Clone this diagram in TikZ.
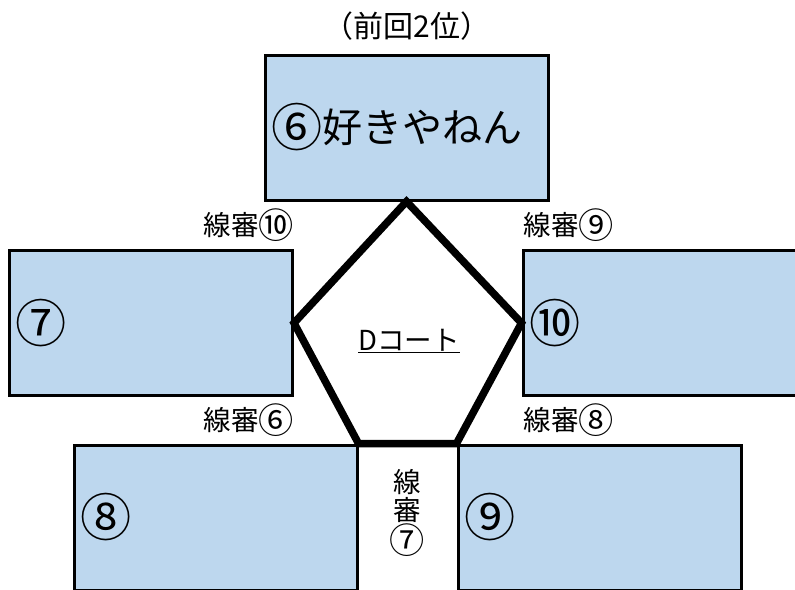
\documentclass[tikz,border=0pt]{standalone}
\usepackage{fontspec}
\setmainfont{Noto Sans CJK JP}
\usetikzlibrary{positioning}
\definecolor{boxblue}{RGB}{189,215,238}
\newcommand\cnum[1]{\raisebox{-0.11em}{\scalebox{1.28}{#1}}}

\begin{document}
\begin{tikzpicture}[x=1pt,y=-1pt]
        \tikzset{court box/.style={draw,fill=boxblue,line width=3pt,
                minimum width=283pt,minimum height=145pt,
                text width=271pt,inner xsep=6pt,align=left,
                font=\fontsize{40}{48}\selectfont},
            judge/.style={font=\fontsize{27.5}{28}\selectfont,inner sep=0pt,align=center},
            court line/.style={line width=7.5pt,line join=miter}}
        \useasboundingbox (0,0) rectangle (795,589);
        \clip (0,0) rectangle (795,589);
        \node[judge,font=\fontsize{30}{30}\selectfont] (last) at (407,26) {（前回2位）};
        \node[court box] (team6) at (406.5,127.5) {\cnum{⑥}好きやねん};
        \node[court box] (team7) at (151,323) {\cnum{⑦}};
        \node[court box] (team10) at (664.5,323) {\cnum{⑩}};
        \node[court box] (team8) at (215.5,517.5) {\cnum{⑧}};
        \node[court box] (team9) at (599.5,517.5) {\cnum{⑨}};
        \draw[court line] (team6.south) -- (team10.west) -- (team9.north west)
            -- (team8.north east) -- (team7.east) -- cycle;
        \node[judge] (court) at (409,341) {\underline{Dコート}};
        \node[judge] (judge10) at (249,225) {線審\cnum{⑩}};
        \node[judge] (judge9) at (569,225) {線審\cnum{⑨}};
        \node[judge] (judge6) at (249,420) {線審\cnum{⑥}};
        \node[judge] (judge8) at (569,420) {線審\cnum{⑧}};
        \node[judge] (judge7) at (407.5,513) {線\\審\\\cnum{⑦}};
\end{tikzpicture}
\end{document}
